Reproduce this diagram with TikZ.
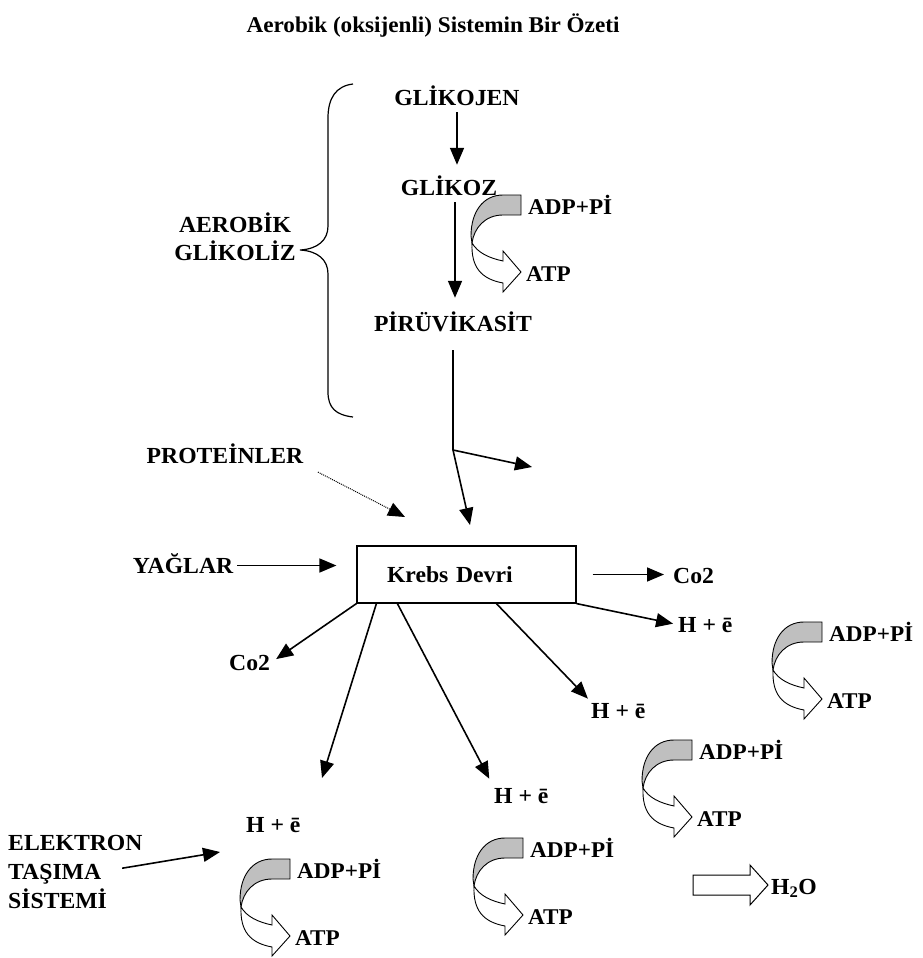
\documentclass[tikz,border=0pt]{standalone}
\usepackage{fontspec}
\setmainfont{Liberation Serif}[FakeStretch=1.03]
\usetikzlibrary{arrows.meta,positioning,calc}

\begin{document}
\begin{tikzpicture}[
  x=1pt,y=-1pt,
  lbl/.style={font=\bfseries\fontsize{23}{28}\selectfont,inner sep=1pt,text height=16pt,text depth=1pt},
  small/.style={font=\bfseries\fontsize{22.5}{27}\selectfont,inner sep=1pt},
  arr/.style={-{Triangle[length=17pt,width=14pt]},line width=1.6pt},
  dotarr/.style={arr,line width=1pt,densely dotted},
  krebsbox/.style={draw,line width=1.2pt,text width=159pt,inner xsep=30pt,align=left,minimum height=57pt},
  atpturn/.pic={
    % shaded half of the turn
    \draw[fill=black!25,line width=0.9pt] (0,0) -- (-18,0) .. controls (-38,0) and (-50,17) .. (-50,41)
      -- (-49,48) .. controls (-47,33) and (-36,20) .. (-18,20) -- (0,20) -- cycle;
    % white half with its head
    \draw[fill=white,line width=0.9pt] (-49,48) .. controls (-43,58) and (-32,63) .. (-18,66)
      -- (-18,56) -- (0,77) -- (-18,97) -- (-18,88) .. controls (-40,84) and (-50,72) .. (-49,48) -- cycle;
    \node[small,anchor=base west] (-adp) at (6,19) {ADP+Pİ};
    \node[small,anchor=base west] (-atp) at (4,86) {ATP};
  }
]
\useasboundingbox (0,0) rectangle (922,958);

\node[lbl,font=\bfseries\fontsize{22.5}{27}\selectfont,anchor=base] (title) at (433,33) {Aerobik (oksijenli) Sistemin Bir Özeti};

% glikoliz
\node[lbl,anchor=base] (glikojen) at (457,105) {GLİKOJEN};
\node[lbl,anchor=base] (glikoz) at (449,195) {GLİKOZ};
\node[lbl,anchor=base] (piruvik) at (453,331) {PİRÜVİKASİT};
\node[lbl,align=center] (aerobik) at (235,253) {AEROBİK\\GLİKOLİZ};
\draw[line width=1.2pt] (353,84) .. controls (336,86) and (328,98) .. (328,118) -- (328,226)
  .. controls (328,240) and (318,249) .. (300,250) .. controls (318,251) and (328,260) .. (328,274)
  -- (328,392) .. controls (328,408) and (336,415) .. (353,417);
\draw[arr,shorten <=5pt,shorten >=13pt] (glikojen.south) -- (glikojen.south |- glikoz.north);
\draw[arr,shorten <=5pt,shorten >=16pt] ([xshift=6pt]glikoz.south) -- ([xshift=6pt]glikoz.south |- piruvik.north);
\pic (cyc1) at (521,195) {atpturn};

% pirüvik asitten krebs devrine
\coordinate (split) at (453,450);
\coordinate (side) at (532,467);
\coordinate (drop) at (470,525);
\draw[line width=1.6pt,shorten <=17pt] (piruvik.south) -- (split);
\draw[arr] (split) -- (side);
\draw[arr] (split) -- (drop);

\node[lbl,anchor=base] (proteinler) at (225,463) {PROTEİNLER};
\coordinate (protend) at (405,517);
\draw[dotarr,shorten <=15pt] (proteinler.south east) -- (protend);

\node[lbl,krebsbox] (krebs) at (466.5,574.5) {Krebs Devri};
\node[lbl,anchor=base] (yaglar) at (183,573) {YAĞLAR};
\draw[arr,shorten <=3pt,shorten >=20pt] (yaglar.east) -- (yaglar.east -| krebs.west);

% krebs ürünleri
\node[lbl,anchor=base west] (co2r) at (672,583) {Co2};
\node[lbl,anchor=base west] (her) at (677,632) {H + ē};
\node[lbl,anchor=base west] (co2l) at (228,670) {Co2};
\node[lbl,anchor=base west] (hem) at (590,718) {H + ē};
\node[lbl,anchor=base west] (hemb) at (493,803) {H + ē};
\node[lbl,anchor=base west] (helb) at (245,832) {H + ē};
\coordinate (kdrop) at (322,778);
\draw[arr,shorten <=16pt,shorten >=8pt] (krebs.east) -- (krebs.east -| co2r.west);
\draw[arr,shorten >=4pt] (krebs.south east) -- (her.west);
\draw[arr,shorten >=6pt] (krebs.south west) -- (co2l.east);
\draw[arr] ([xshift=20pt]krebs.south west) -- (kdrop);
\draw[arr,shorten >=8pt] ([xshift=41pt]krebs.south west) -- (hemb.north west);
\draw[arr,shorten >=3pt] ([xshift=140pt]krebs.south west) -- (hem.north west);

% elektron taşıma sistemi
\node[lbl,anchor=base west] (elektron) at (7,850) {ELEKTRON};
\node[lbl,anchor=base west] (tasima) at (7,879) {TAŞIMA};
\node[lbl,anchor=base west] (sistemi) at (7,908) {SİSTEMİ};
\coordinate (etsend) at (220,852);
\draw[arr,shorten <=20pt] (tasima.east) -- (etsend);

\pic (cyc2) at (822,622) {atpturn};
\pic (cyc3) at (692,740) {atpturn};
\pic (cyc4) at (523,838) {atpturn};
\pic (cyc5) at (290,859) {atpturn};

% su
\draw[line width=1pt,fill=white] (693,875) -- (750,875) -- (750,865) -- (768,885) -- (750,905) -- (750,895) -- (693,895) -- cycle;
\node[lbl,anchor=base west] (h2o) at (770,894) {H\textsubscript{2}O};
\end{tikzpicture}
\end{document}
